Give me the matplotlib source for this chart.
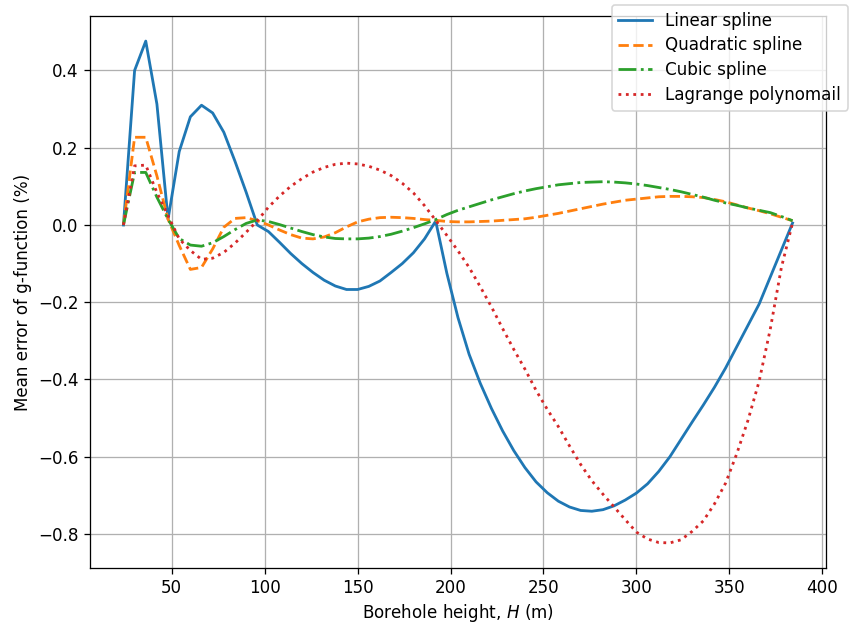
import numpy as np
import matplotlib.pyplot as plt

# borehole heights (m)
H = np.arange(24, 385, 6)

# mean error of g-function (%) for each interpolation method
linear = [0.0, 0.40, 0.476, 0.313, 0.015, 0.19, 0.28, 0.31, 0.29, 0.24,
          0.165, 0.085, 0.0, -0.017, -0.045, -0.074, -0.10, -0.123, -0.143, -0.158,
          -0.167, -0.167, -0.159, -0.145, -0.123, -0.10, -0.072, -0.036, 0.01, -0.125,
          -0.24, -0.335, -0.41, -0.475, -0.533, -0.584, -0.628, -0.665, -0.693, -0.715,
          -0.73, -0.739, -0.741, -0.737, -0.727, -0.712, -0.694, -0.67, -0.638, -0.6,
          -0.555, -0.51, -0.466, -0.42, -0.37, -0.315, -0.26, -0.205, -0.135, -0.065,
          0.005]
quadratic = [0.0, 0.227, 0.227, 0.127, 0.015, -0.053, -0.115, -0.11, -0.062, -0.006,
             0.017, 0.019, 0.011, 0.0, -0.013, -0.025, -0.034, -0.036, -0.031, -0.02,
             -0.005, 0.008, 0.015, 0.019, 0.02, 0.019, 0.017, 0.014, 0.012, 0.009,
             0.008, 0.008, 0.009, 0.01, 0.012, 0.014, 0.016, 0.02, 0.025, 0.03,
             0.036, 0.042, 0.048, 0.054, 0.059, 0.064, 0.067, 0.07, 0.073, 0.074,
             0.074, 0.073, 0.071, 0.066, 0.06, 0.052, 0.044, 0.037, 0.029, 0.02,
             0.011]
cubic = [0.0, 0.136, 0.136, 0.072, 0.015, -0.035, -0.052, -0.055, -0.046, -0.03,
         -0.012, 0.004, 0.013, 0.009, 0.001, -0.008, -0.017, -0.025, -0.031, -0.035,
         -0.036, -0.036, -0.034, -0.03, -0.024, -0.016, -0.007, 0.003, 0.014, 0.027,
         0.038, 0.047, 0.056, 0.065, 0.073, 0.081, 0.088, 0.094, 0.099, 0.104,
         0.107, 0.110, 0.111, 0.112, 0.111, 0.109, 0.106, 0.102, 0.097, 0.092,
         0.086, 0.079, 0.072, 0.064, 0.057, 0.051, 0.044, 0.038, 0.032, 0.022,
         0.011]
lagrange = [0.0, 0.153, 0.155, 0.084, 0.024, -0.036, -0.066, -0.089, -0.086, -0.071,
            -0.047, -0.019, 0.011, 0.046, 0.075, 0.10, 0.12, 0.137, 0.149, 0.157,
            0.16, 0.158, 0.152, 0.142, 0.128, 0.108, 0.083, 0.05, 0.012, -0.027,
            -0.067, -0.11, -0.16, -0.212, -0.268, -0.322, -0.373, -0.428, -0.477, -0.522,
            -0.572, -0.62, -0.662, -0.697, -0.73, -0.763, -0.795, -0.813, -0.822, -0.823,
            -0.815, -0.793, -0.766, -0.722, -0.668, -0.592, -0.506, -0.405, -0.27, -0.11,
            0.005]

plt.rcParams['font.size'] = 10.5

dpi = 115
fig = plt.figure(figsize=(849 / dpi, 623 / dpi), dpi=dpi)
ax = fig.add_axes([90 / 849, 1 - 568 / 623, (826 - 90) / 849, (568 - 16) / 623])

lw = 1.75
ax.plot(H, linear, '-', lw=lw, label='Linear spline')
ax.plot(H, quadratic, '--', lw=lw, label='Quadratic spline')
ax.plot(H, cubic, '-.', lw=lw, label='Cubic spline')
ax.plot(H, lagrange, ':', lw=lw, label='Lagrange polynomail')

ax.set_xlabel('Borehole height, $H$ (m)', labelpad=3)
ax.set_ylabel('Mean error of g-function (%)')
ax.grid(True)

fig.legend(loc='upper right', bbox_to_anchor=(848 / 849, 1 - 5 / 623),
           borderaxespad=0, labelspacing=0.4)

fig.savefig('out.png', dpi=dpi)
